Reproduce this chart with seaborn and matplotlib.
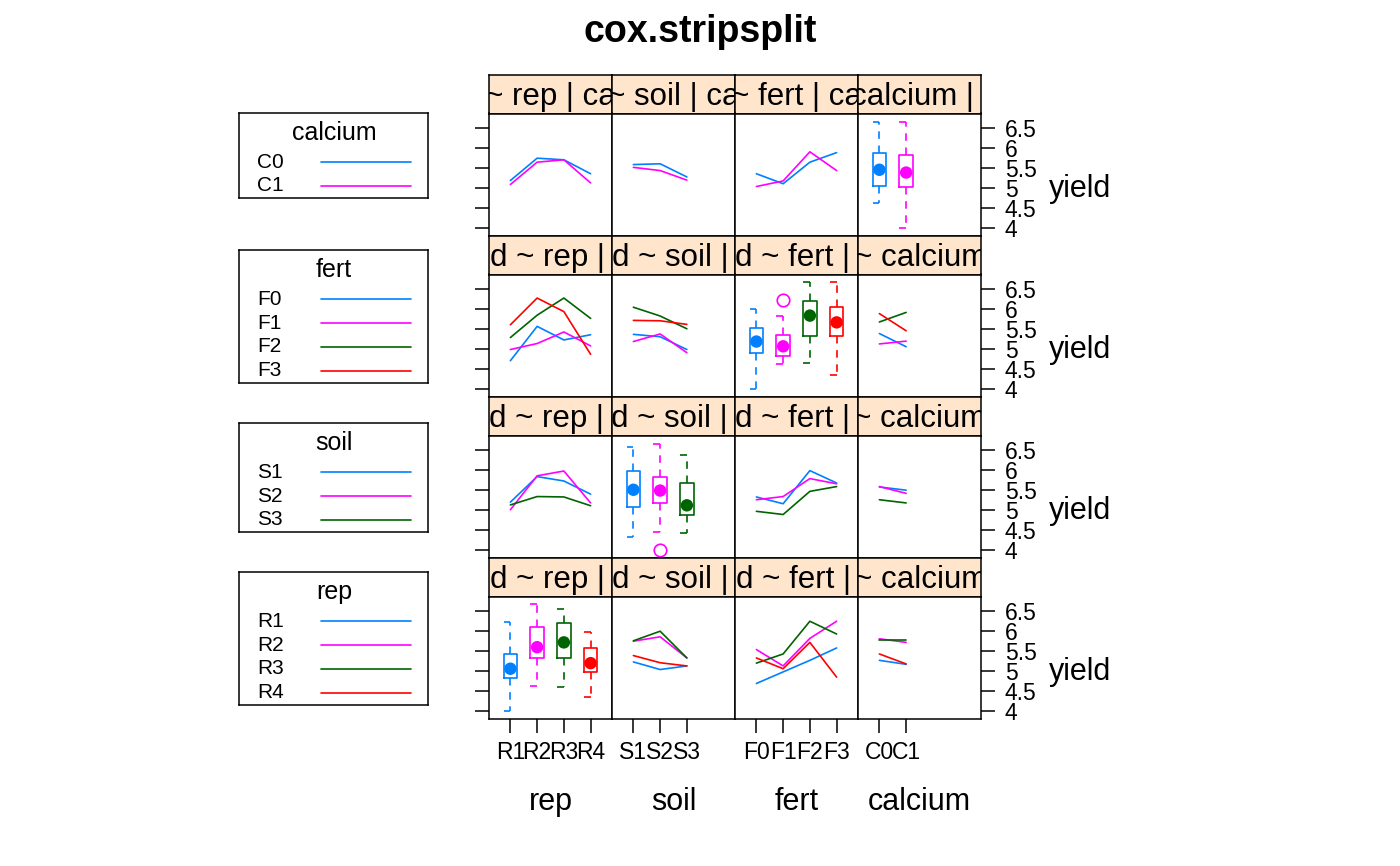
"""
Interaction plot matrix for the cox.stripsplit yield data (lattice style).
Rows are trace factors, columns are x factors, diagonal panels are boxplots.
"""

import matplotlib

matplotlib.use("Agg")
import matplotlib.pyplot as plt
import pandas as pd
import seaborn as sns

# factor levels
rep_levels = ["R1", "R2", "R3", "R4"]
soil_levels = ["S1", "S2", "S3"]
fert_levels = ["F0", "F1", "F2", "F3"]
calcium_levels = ["C0", "C1"]

# mean yield by x factor level, one list per trace level ("trace_by_x")
calcium_by_rep = [[5.18, 5.74, 5.70, 5.35], [5.08, 5.64, 5.70, 5.12]]
calcium_by_soil = [[5.58, 5.60, 5.27], [5.51, 5.43, 5.19]]
calcium_by_fert = [[5.35, 5.10, 5.64, 5.88], [5.03, 5.17, 5.90, 5.43]]

fert_by_rep = [
    [4.70, 5.56, 5.22, 5.35],
    [4.98, 5.13, 5.42, 5.07],
    [5.28, 5.84, 6.27, 5.76],
    [5.60, 6.27, 5.93, 4.86],
]
fert_by_soil = [
    [5.36, 5.30, 4.98],
    [5.18, 5.37, 4.90],
    [6.04, 5.82, 5.50],
    [5.71, 5.70, 5.61],
]
fert_by_calcium = [[5.38, 5.05], [5.12, 5.19], [5.67, 5.91], [5.88, 5.45]]

soil_by_rep = [
    [5.19, 5.83, 5.72, 5.39],
    [5.00, 5.85, 5.97, 5.17],
    [5.12, 5.33, 5.32, 5.10],
]
soil_by_fert = [
    [5.32, 5.15, 5.98, 5.67],
    [5.25, 5.33, 5.78, 5.65],
    [4.96, 4.88, 5.46, 5.58],
]
soil_by_calcium = [[5.57, 5.49], [5.58, 5.41], [5.25, 5.17]]

rep_by_soil = [
    [5.22, 5.03, 5.12],
    [5.74, 5.85, 5.32],
    [5.75, 5.99, 5.32],
    [5.38, 5.20, 5.12],
]
rep_by_fert = [
    [4.68, 4.97, 5.26, 5.57],
    [5.53, 5.12, 5.81, 6.24],
    [5.19, 5.42, 6.24, 5.92],
    [5.32, 5.05, 5.71, 4.84],
]
rep_by_calcium = [[5.26, 5.16], [5.80, 5.71], [5.77, 5.77], [5.42, 5.17]]

# boxplot summaries: low whisker, q1, median, q3, high whisker
rep_box = [
    [3.99, 4.83, 5.05, 5.42, 6.21],
    [4.62, 5.32, 5.59, 6.09, 6.67],
    [4.59, 5.32, 5.71, 6.19, 6.54],
    [4.33, 4.98, 5.19, 5.57, 5.98],
]
soil_box = [
    [4.31, 5.08, 5.50, 5.97, 6.57],
    [4.45, 5.16, 5.48, 5.83, 6.65],
    [4.42, 4.87, 5.11, 5.68, 6.38],
]
fert_box = [
    [3.98, 4.89, 5.18, 5.53, 6.00],
    [4.62, 4.83, 5.06, 5.35, 5.83],
    [4.63, 5.33, 5.83, 6.20, 6.68],
    [4.33, 5.31, 5.66, 6.04, 6.66],
]
calcium_box = [
    [4.62, 5.05, 5.45, 5.86, 6.64],
    [3.98, 5.02, 5.38, 5.81, 6.64],
]
rep_outliers = [[], [], [], []]
soil_outliers = [[], [3.98], []]
fert_outliers = [[], [6.23], [], []]
calcium_outliers = [[], []]

yield_ticks = [4, 4.5, 5, 5.5, 6, 6.5]
yield_tick_labels = ["4", "4.5", "5", "5.5", "6", "6.5"]

line_colors = ["#0080FF", "#FF00FF", "#006400", "#FF0000"]
strip_color = "#FFE5CC"

levels = {
    "rep": rep_levels,
    "soil": soil_levels,
    "fert": fert_levels,
    "calcium": calcium_levels,
}
means = {
    ("calcium", "rep"): calcium_by_rep,
    ("calcium", "soil"): calcium_by_soil,
    ("calcium", "fert"): calcium_by_fert,
    ("fert", "rep"): fert_by_rep,
    ("fert", "soil"): fert_by_soil,
    ("fert", "calcium"): fert_by_calcium,
    ("soil", "rep"): soil_by_rep,
    ("soil", "fert"): soil_by_fert,
    ("soil", "calcium"): soil_by_calcium,
    ("rep", "soil"): rep_by_soil,
    ("rep", "fert"): rep_by_fert,
    ("rep", "calcium"): rep_by_calcium,
}
boxes = {
    "rep": (rep_box, rep_outliers),
    "soil": (soil_box, soil_outliers),
    "fert": (fert_box, fert_outliers),
    "calcium": (calcium_box, calcium_outliers),
}

col_factors = ["rep", "soil", "fert", "calcium"]
row_factors = ["calcium", "fert", "soil", "rep"]

sns.set_theme(style="white")
plt.rcParams["font.family"] = ["Liberation Sans", "DejaVu Sans"]
plt.rcParams.update(
    {
        "axes.edgecolor": "black",
        "axes.linewidth": 1.1,
        "xtick.color": "black",
        "ytick.color": "black",
        "text.color": "black",
    }
)

W, H = 1400, 866


def rect(x0, y0, x1, y1):
    # pixel box (top-left origin) -> figure fraction rect
    return [x0 / W, 1 - y1 / H, (x1 - x0) / W, (y1 - y0) / H]


col_left, col_w = 489, 123
row_top, row_step = 75, 161
strip_h, panel_h = 38.5, 122.5
box_w = 0.5

fig = plt.figure(figsize=(14, 8.66), dpi=100)

fig.text(0.5, 1 - 42.5 / H, "cox.stripsplit", ha="center", va="baseline",
         fontsize=27, fontweight="bold")

for i, tr in enumerate(row_factors):
    top = row_top + i * row_step
    tr_levels = levels[tr]
    palette = line_colors[: len(tr_levels)]

    for j, xf in enumerate(col_factors):
        x0 = col_left + j * col_w

        strip = fig.add_axes(rect(x0, top, x0 + col_w, top + strip_h))
        strip.set_facecolor(strip_color)
        strip.set_xticks([])
        strip.set_yticks([])
        strip.text(0.5, 0.22, f"yield ~ {xf} | {tr}", transform=strip.transAxes,
                   ha="center", va="baseline", fontsize=22.5, clip_on=True)

        ax = fig.add_axes(rect(x0, top + strip_h, x0 + col_w, top + strip_h + panel_h))
        x_levels = levels[xf]
        pos = list(range(1, len(x_levels) + 1))

        if tr == xf:
            box, outs = boxes[xf]
            stats = [
                dict(whislo=b[0], q1=b[1], med=b[2], q3=b[3], whishi=b[4], fliers=o)
                for b, o in zip(box, outs)
            ]
            art = ax.bxp(
                stats, positions=pos, widths=box_w, showcaps=False, manage_ticks=False,
                boxprops=dict(lw=1.2),
                whiskerprops=dict(lw=1.2, ls=(0, (4.5, 4))),
                medianprops=dict(visible=False),
                flierprops=dict(marker="o", markerfacecolor="none",
                                markersize=9, markeredgewidth=1.2),
            )
            for k, c in enumerate(palette):
                art["boxes"][k].set_color(c)
                art["whiskers"][2 * k].set_color(c)
                art["whiskers"][2 * k + 1].set_color(c)
                art["fliers"][k].set_markeredgecolor(c)
                ax.hlines([box[k][0], box[k][4]], pos[k] - box_w / 2, pos[k],
                          color=c, lw=1.2)
            sns.scatterplot(x=pos, y=[b[2] for b in box], hue=x_levels,
                            hue_order=x_levels, palette=palette, s=80,
                            edgecolor="none", legend=False, ax=ax, zorder=5)
        else:
            vals = means[(tr, xf)]
            df = pd.DataFrame(
                [(p, lv, v) for lv, row in zip(tr_levels, vals) for p, v in zip(pos, row)],
                columns=["pos", tr, "yield"],
            )
            sns.lineplot(data=df, x="pos", y="yield", hue=tr, hue_order=tr_levels,
                         palette=palette, lw=1.2, errorbar=None, legend=False, ax=ax)

        ax.set_xlim(0.2, 4.8)
        ax.set_ylim(3.79, 6.86)
        ax.set_xlabel("")
        ax.set_ylabel("")
        ax.set_xticks(pos)
        ax.set_xticklabels(x_levels)
        ax.set_yticks(yield_ticks)
        ax.set_yticklabels(yield_tick_labels)
        ax.tick_params(axis="x", bottom=(i == 3), labelbottom=(i == 3), length=10,
                       width=1.1, pad=6, labelsize=16.5, direction="out")
        ax.tick_params(axis="y", left=(j == 0), right=(j == 3), labelleft=False,
                       labelright=(j == 3), length=10, width=1.1, pad=7,
                       labelsize=16.5, direction="out")

    # y label for the row
    panel_mid = top + strip_h + panel_h / 2
    fig.text(1049 / W, 1 - (panel_mid + 22) / H, "yield", ha="left",
             va="baseline", fontsize=22)

    # legend for the trace factor, centred on the row block
    n = len(tr_levels)
    box_h = 49 + (n - 1) * 23.7 + 12
    lg_top = top + row_step / 2 - box_h / 2
    lg = fig.add_axes(rect(239, lg_top, 428, lg_top + box_h))
    lg.set_xlim(239, 428)
    lg.set_ylim(lg_top + box_h, lg_top)
    lg.set_xticks([])
    lg.set_yticks([])
    lg.text(334, lg_top + 20, tr, ha="center", va="center", fontsize=18)
    for k, (lv, c) in enumerate(zip(tr_levels, palette)):
        y = lg_top + 49 + k * 23.7
        lg.text(257, y, lv, ha="left", va="center", fontsize=15)
        lg.plot([320.5, 410.5], [y, y], color=c, lw=1.2)

# x labels under each column
for j, xf in enumerate(col_factors):
    fig.text((col_left + j * col_w + col_w / 2) / W, 1 - 810 / H, xf,
             ha="center", va="baseline", fontsize=22)

fig.savefig("out.png", dpi=100)
plt.close(fig)
